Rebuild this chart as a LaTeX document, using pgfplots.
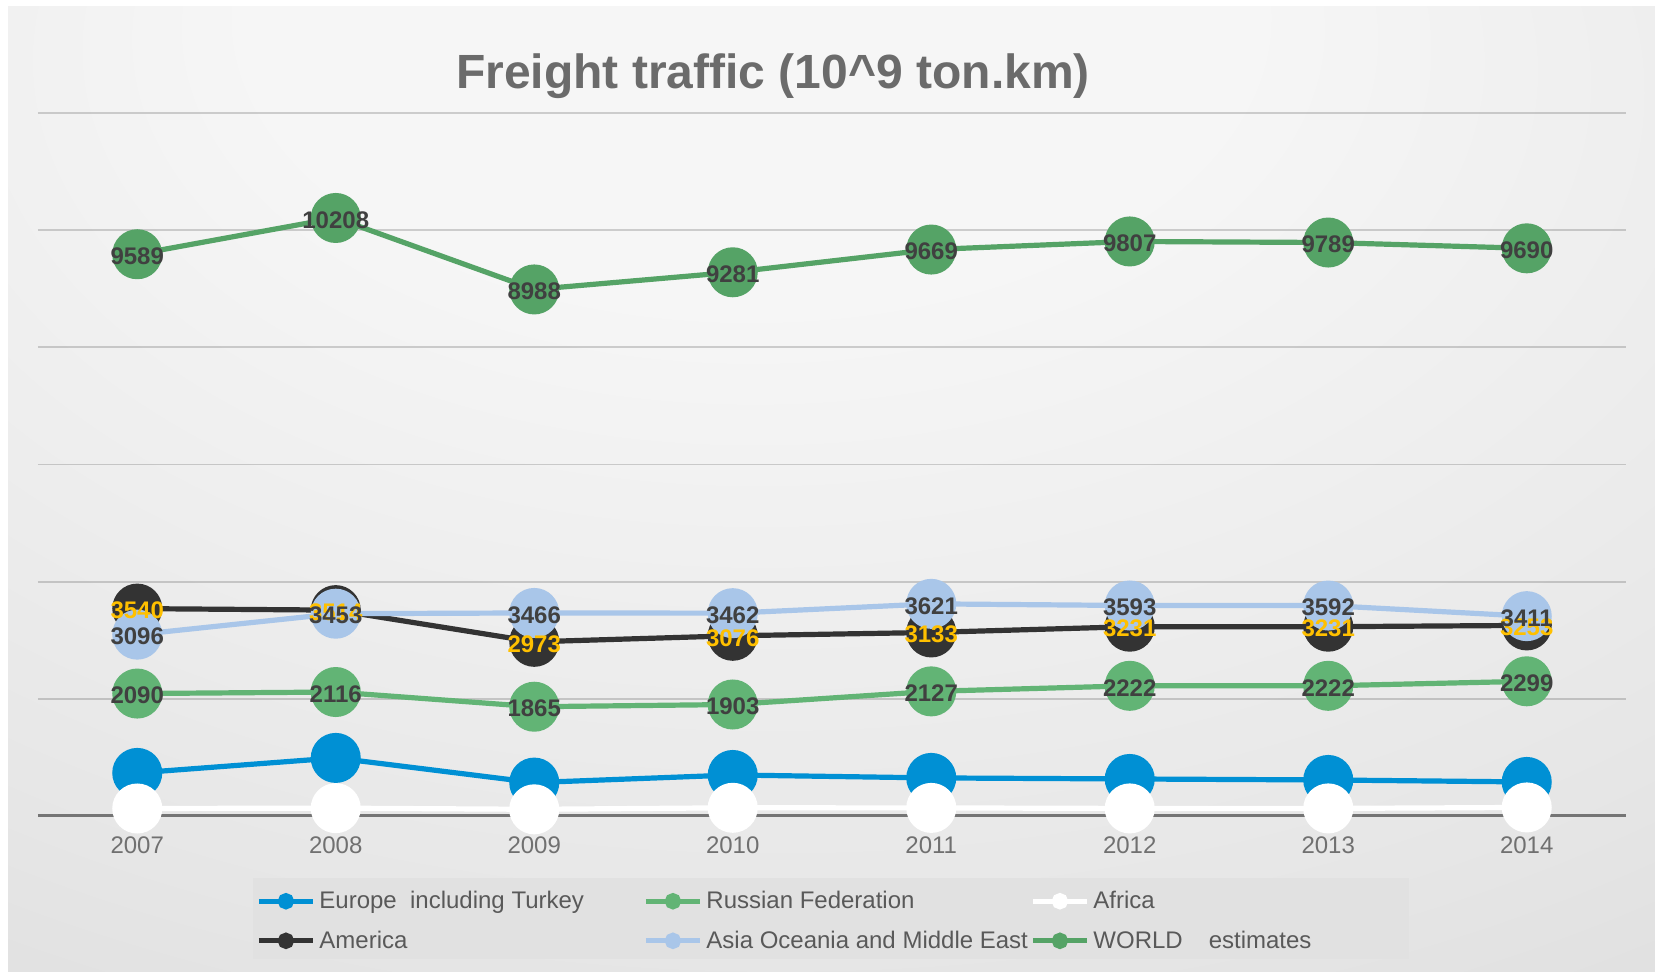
\documentclass[border=0pt]{standalone}
\usepackage{pgfplots}
\pgfplotsset{compat=1.18}
\usepackage{fontspec}
\setmainfont{Liberation Sans}
\definecolor{eur}{HTML}{0090D4}
\definecolor{rus}{HTML}{62B475}
\definecolor{wld}{HTML}{55A366}
\definecolor{asi}{HTML}{A9C6E9}
\definecolor{ame}{HTML}{333333}
\definecolor{lbl}{HTML}{404040}
\definecolor{gold}{HTML}{FFC000}
\definecolor{tit}{HTML}{6B6B6B}
\definecolor{tickc}{HTML}{707070}
\definecolor{legtext}{HTML}{595959}
\definecolor{legfill}{HTML}{E1E1E1}
\definecolor{bgA}{HTML}{F6F6F6}
\definecolor{bgB}{HTML}{E6E6E6}
\definecolor{bgC}{HTML}{D2D2D2}
\definecolor{bgD}{HTML}{C8C8C8}
\pgfdeclareradialshading{bgshade}{\pgfpoint{-3bp}{30bp}}{color(0bp)=(bgA); color(15bp)=(bgA); color(40bp)=(bgB); color(65bp)=(bgC); color(85bp)=(bgD)}
\begin{document}
\begin{tikzpicture}
\useasboundingbox (0pt,0pt) rectangle (827.5pt,486pt);
\fill[white] (0pt,0pt) rectangle (827.5pt,486pt);
\shade[shading=bgshade] (4pt,0pt) rectangle (827.5pt,482.5pt);
\fill[legfill] (126.5pt,6.5pt) rectangle (704.5pt,47pt);
\node[font=\fontsize{24}{28}\selectfont\bfseries, text=tit] at (386.5pt,448pt) {Freight traffic (10\textasciicircum 9 ton.km)};
\begin{axis}[
  at={(19pt,78pt)}, anchor=south west, scale only axis,
  width=794pt, height=351.5pt,
  xmin=-0.5, xmax=7.5, ymin=0, ymax=12000,
  scaled y ticks=false,
  xtick={0,...,7}, xticklabels={2007,2008,2009,2010,2011,2012,2013,2014},
  ytick={2000,4000,...,12000}, yticklabels={},
  ymajorgrids, major grid style={draw=black, draw opacity=0.17, line width=0.9pt},
  axis line style={draw=none}, major tick length=0pt,
  xticklabel style={font=\fontsize{12}{14}\selectfont, text=tickc, anchor=center, yshift=-14.5pt},
  clip=false,
  legend columns=3,
  legend style={at={(axis description cs:0.1373,-0.1005)}, anchor=north west,
    draw=none, fill=none, inner sep=0pt, row sep=5.6pt,
    font=\fontsize{12}{14}\selectfont, text=legtext},
  legend cell align=left,
  legend image code/.code={\draw[line width=2.5pt] (0pt,0pt) -- (27pt,0pt); \fill (13.5pt,0pt) circle (2.8pt);},
]
\draw[black!54, line width=1.5pt] (axis cs:-0.5,0) -- (axis cs:7.5,0);
% Europe including Turkey
\addplot[eur, line width=2.6pt, mark=*, mark size=11.2pt, mark options={draw=none}]
  coordinates {(0,735) (1,991) (2,570) (3,700) (4,650) (5,632) (6,615) (7,581)};
\addlegendentry{\makebox[160pt][l]{Europe\ \ including Turkey}}
% Russian Federation
\addplot[rus, line width=2.6pt, mark=*, mark size=11.2pt, mark options={draw=none}]
  coordinates {(0,2090) (1,2116) (2,1865) (3,1903) (4,2127) (5,2222) (6,2222) (7,2299)};
\addlegendentry{\makebox[160pt][l]{Russian Federation}}
% Africa
\addplot[white, line width=2.6pt, mark=*, mark size=11.2pt, mark options={draw=none}]
  coordinates {(0,128) (1,134) (2,114) (3,140) (4,138) (5,129) (6,129) (7,146)};
\addlegendentry{\makebox[160pt][l]{Africa}}
% America
\addplot[ame, line width=2.6pt, mark=*, mark size=11.2pt, mark options={draw=none}]
  coordinates {(0,3540) (1,3514) (2,2973) (3,3076) (4,3133) (5,3231) (6,3231) (7,3253)};
\addlegendentry{\makebox[160pt][l]{America}}
% Asia Oceania and Middle East
\addplot[asi, line width=2.6pt, mark=*, mark size=11.2pt, mark options={draw=none}]
  coordinates {(0,3096) (1,3453) (2,3466) (3,3462) (4,3621) (5,3593) (6,3592) (7,3411)};
\addlegendentry{\makebox[160pt][l]{Asia Oceania and Middle East}}
% WORLD estimates
\addplot[wld, line width=2.6pt, mark=*, mark size=11.2pt, mark options={draw=none}]
  coordinates {(0,9589) (1,10208) (2,8988) (3,9281) (4,9669) (5,9807) (6,9789) (7,9690)};
\addlegendentry{\makebox[160pt][l]{WORLD\hspace{13pt}estimates}}
% data labels
\pgfplotsset{lblstyle/.style={forget plot, draw=none, mark=none, nodes near coords, point meta=explicit symbolic,
  every node near coord/.append style={anchor=center, yshift=-1pt, font=\bfseries\fontsize{12}{13}\selectfont, text=#1}}}
\addplot[lblstyle=lbl] coordinates {(0,2090)[2090] (1,2116)[2116] (2,1865)[1865] (3,1903)[1903] (4,2127)[2127] (5,2222)[2222] (6,2222)[2222] (7,2299)[2299]};
\addplot[lblstyle=gold] coordinates {(0,3540)[3540] (1,3514)[3514] (2,2973)[2973] (3,3076)[3076] (4,3133)[3133] (5,3231)[3231] (6,3231)[3231] (7,3253)[3253]};
\addplot[lblstyle=lbl] coordinates {(0,3096)[3096] (1,3453)[3453] (2,3466)[3466] (3,3462)[3462] (4,3621)[3621] (5,3593)[3593] (6,3592)[3592] (7,3411)[3411]};
\addplot[lblstyle=lbl] coordinates {(0,9589)[9589] (1,10208)[10208] (2,8988)[8988] (3,9281)[9281] (4,9669)[9669] (5,9807)[9807] (6,9789)[9789] (7,9690)[9690]};
\end{axis}
\end{tikzpicture}
\end{document}
